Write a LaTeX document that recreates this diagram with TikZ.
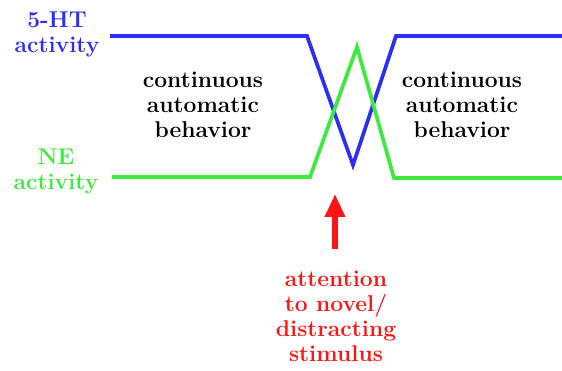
\documentclass[tikz,border=0pt]{standalone}
\usepackage{tikz}
\usetikzlibrary{arrows.meta}
\definecolor{htblue}{RGB}{45,45,245}
\definecolor{negreen}{RGB}{60,235,60}
\definecolor{stimred}{RGB}{255,20,20}

\begin{document}
\begin{tikzpicture}[>={Triangle[width=11pt,length=13pt]},x=0.02cm,y=-0.02cm,
		lab/.style={font=\bfseries\fontsize{13}{14.2}\selectfont,align=center,inner sep=0pt},
		trace/.style={line width=2.1pt,line join=miter}]
		\useasboundingbox (0,0) rectangle (562,370);
		% activity traces
		\draw[trace,htblue] (110,36)--(307,36)--(353,165)--(396,36)--(562,36);
		\draw[trace,negreen] (112,177)--(310,177)--(357,47)--(394,178)--(562,178);
		\node[lab,text=htblue] (ht) at (57,34) {5-HT\\activity};
		\node[lab,text=negreen] (ne) at (56,171) {NE\\activity};
		\foreach \x/\nm in {203/left,462/right}{
			\node[lab] (beh\nm) at (\x,105) {continuous\\automatic\\behavior};
		}
		\node[lab,text=stimred] (stim) at (336,316) {attention\\to novel/\\distracting\\stimulus};
		\coordinate (tip) at (335,194);
		\draw[->,stimred,line width=3pt] (335,249)--(tip);
	\end{tikzpicture}
\end{document}
